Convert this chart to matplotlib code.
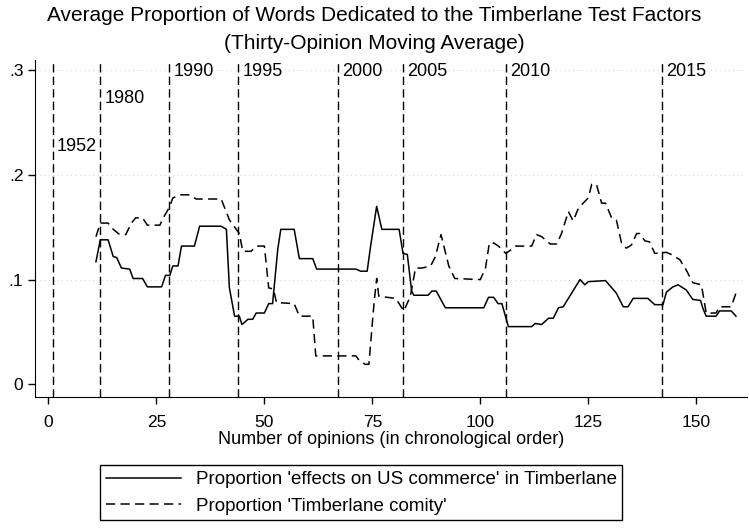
import matplotlib.pyplot as plt
import numpy as np

plt.rcParams['font.family'] = ['Liberation Sans', 'DejaVu Sans']

# moving average, 'effects on US commerce'
commerce_x = [11, 12, 13.8, 15, 15.8, 16.9, 18.8, 19.6, 21.8, 22.9, 26.2, 27.1, 28.1, 28.8, 30, 30.8,
              33.8, 35, 40, 41.2, 41.9, 43.1, 44.2, 44.8, 46.2, 47.3, 48.1, 50, 51, 51.9, 53.1,
              53.8, 56.9, 58.1, 61.2, 62.1, 71.2, 72.3, 73.8, 74.6, 76, 77.2, 81.2, 82.1, 83.1,
              84.1, 84.6, 87.9, 88.8, 89.8, 91.9, 100.8, 101.9, 103.1, 104.1, 105, 106.5, 111.9,
              112.7, 114.2, 115.8, 116.9, 118.1, 119.2, 120.4, 123.1, 124.2, 125, 129, 131.5,
              133.1, 134.2, 135.4, 138.8, 140.4, 142.3, 143.1, 144.6, 145.8, 147.7, 149.2, 151,
              151.5, 152.3, 154.6, 155.4, 158.1, 159.2]
commerce_y = [0.117, 0.138, 0.138, 0.122, 0.121, 0.111, 0.110, 0.101, 0.101, 0.093, 0.093, 0.104,
              0.104, 0.113, 0.113, 0.132, 0.132, 0.151, 0.151, 0.148, 0.092, 0.065, 0.065, 0.057,
              0.062, 0.062, 0.068, 0.068, 0.077, 0.077, 0.129, 0.148, 0.148, 0.120, 0.120, 0.110,
              0.110, 0.108, 0.108, 0.132, 0.170, 0.148, 0.148, 0.125, 0.124, 0.089, 0.085, 0.085,
              0.089, 0.089, 0.073, 0.073, 0.083, 0.083, 0.077, 0.077, 0.055, 0.055, 0.058, 0.057,
              0.063, 0.063, 0.073, 0.074, 0.082, 0.100, 0.095, 0.098, 0.099, 0.087, 0.074, 0.074,
              0.082, 0.082, 0.076, 0.076, 0.088, 0.093, 0.095, 0.090, 0.081, 0.080, 0.073, 0.065,
              0.065, 0.070, 0.070, 0.065]

# moving average, 'Timberlane comity'
comity_x = [11, 12, 13.8, 15, 16.5, 17.9, 19.2, 20.2, 21.8, 22.9, 25.8, 26.7, 27.3, 28.1, 28.8,
            30.4, 32.7, 34.2, 40, 41.9, 43.5, 44.2, 45, 46.9, 48.1, 50, 51, 52.1, 52.8, 56.9,
            58.1, 61.2, 61.9, 71.2, 71.9, 73.3, 74.2, 75.4, 76, 76.5, 80.4, 82.3, 83.8, 85, 86.5,
            88.5, 89.6, 90.9, 92.7, 94.1, 100, 101.2, 102.1, 103.1, 104.2, 105.9, 107.3, 108.1,
            111.9, 113, 114.2, 116.2, 117.7, 118.8, 120.4, 121.5, 122.7, 123.8, 125, 125.8,
            126.9, 128.1, 129, 130.4, 131.5, 132.7, 133.8, 135, 136.2, 136.9, 138.1, 139.2,
            140.4, 143.1, 144.2, 146.2, 147.7, 149.2, 151.2, 151.9, 152.3, 154.6, 155.4, 158.1,
            159.2]
comity_y = [0.141, 0.154, 0.154, 0.148, 0.143, 0.143, 0.154, 0.159, 0.159, 0.152, 0.152, 0.160,
            0.164, 0.170, 0.178, 0.181, 0.181, 0.177, 0.177, 0.157, 0.148, 0.144, 0.127, 0.127,
            0.132, 0.132, 0.092, 0.091, 0.078, 0.077, 0.065, 0.065, 0.027, 0.027, 0.023, 0.019,
            0.019, 0.078, 0.101, 0.084, 0.082, 0.070, 0.084, 0.111, 0.111, 0.113, 0.122, 0.143,
            0.113, 0.101, 0.100, 0.111, 0.135, 0.135, 0.132, 0.125, 0.129, 0.132, 0.132, 0.143,
            0.141, 0.134, 0.134, 0.144, 0.165, 0.156, 0.168, 0.173, 0.178, 0.191, 0.191, 0.173,
            0.173, 0.159, 0.157, 0.135, 0.130, 0.133, 0.144, 0.144, 0.137, 0.136, 0.125, 0.126,
            0.124, 0.119, 0.109, 0.097, 0.095, 0.078, 0.068, 0.068, 0.074, 0.074, 0.087]

year_pos = [1, 12, 28, 44, 67, 82, 106, 142]
year_labels = ["1952", "1980", "1990", "1995", "2000", "2005", "2010", "2015"]
year_label_y = [0.227, 0.273, 0.299, 0.299, 0.299, 0.299, 0.299, 0.299]

fig = plt.figure(figsize=(7.49, 5.30), dpi=100)
ax = fig.add_axes([0.047, 0.2515, 0.95, 0.6355])

for y in [0.1, 0.2, 0.3]:
    ax.axhline(y, color="#d8d8d8", lw=0.8, ls=(0, (1, 3)), zorder=0)

for xp, lab, ly in zip(year_pos, year_labels, year_label_y):
    ax.axvline(xp, color="black", lw=1.0, ls=(0, (6, 3)), zorder=1)
    ax.text(xp + 1.0, ly, lab, fontsize=13, va="center", ha="left")

l1, = ax.plot(commerce_x, commerce_y, color="black", lw=1.1)
l2, = ax.plot(comity_x, comity_y, color="black", lw=1.1, ls=(0, (6, 3.5)))

ax.set_xlim(-3.07, 161.7)
ax.set_ylim(-0.012, 0.31)
ax.set_xticks([0, 25, 50, 75, 100, 125, 150])
ax.set_yticks([0, 0.1, 0.2, 0.3])
ax.set_yticklabels(["0", ".1", ".2", ".3"])
ax.tick_params(labelsize=12.5, length=5, width=1)
ax.tick_params(axis="x", pad=8)
ax.spines["top"].set_visible(False)
ax.spines["right"].set_visible(False)
ax.set_xlabel("Number of opinions (in chronological order)", fontsize=13, labelpad=1)

fig.text(0.5, 0.988, "Average Proportion of Words Dedicated to the Timberlane Test Factors\n"
         "(Thirty-Opinion Moving Average)", ha="center", va="top", fontsize=15, linespacing=1.6)

leg = fig.legend([l1, l2], ["Proportion 'effects on US commerce' in Timberlane",
                            "Proportion 'Timberlane comity'"],
                 loc="center", bbox_to_anchor=(0.482, 0.070), fontsize=13.5, handlelength=4.0,
                 fancybox=False, edgecolor="black", framealpha=1, borderpad=0.3,
                 labelspacing=0.5)
leg.get_frame().set_linewidth(1.0)

fig.savefig("out.png", dpi=100)
